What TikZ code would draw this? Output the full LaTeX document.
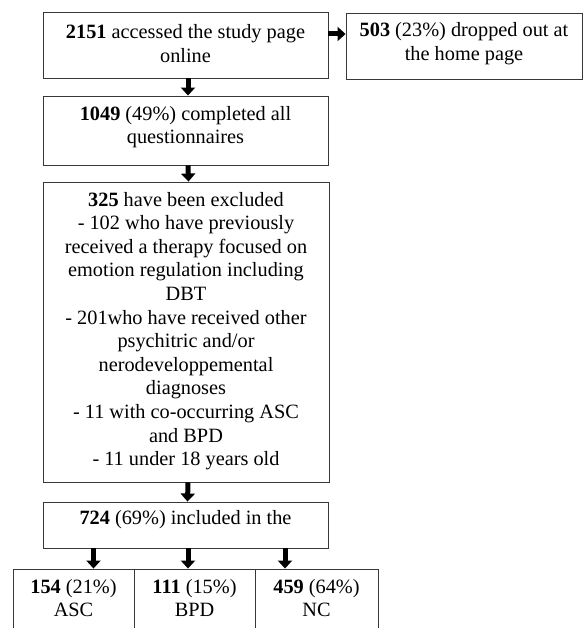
\documentclass[tikz,border=0pt]{standalone}
\usepackage{fontspec}
\setmainfont{Liberation Serif}
\usetikzlibrary{arrows.meta}
\tikzset{
  box/.style={draw=black!78, line width=0.9pt, rectangle, inner sep=0pt},
  txt/.style={align=center, inner sep=0pt, font=\fontsize{20.3}{23.6}\selectfont},
  blockarrow/.style={line width=5pt, black, -{Triangle[width=14pt,length=8pt]}},
}
\begin{document}
\begin{tikzpicture}[x=1pt,y=-1pt]
\useasboundingbox (0,0) rectangle (583,628);
\clip (0,0) rectangle (583,628);
% boxes
\node[box, minimum width=285pt, minimum height=66pt] (b1) at (185.5,45) {};
\node[box, minimum width=236pt, minimum height=66pt] (drop) at (464,46) {};
\node[box, minimum width=285pt, minimum height=69pt] (b2) at (185.5,130.5) {};
\node[box, minimum width=286pt, minimum height=300pt] (b3) at (186,332) {};
\node[box, minimum width=285pt, minimum height=46pt] (b4) at (185.5,525) {};
\node[box, minimum width=121pt, minimum height=80pt] (asc) at (73.5,609) {};
\node[box, minimum width=121pt, minimum height=80pt] (bpd) at (194.5,609) {};
\node[box, minimum width=123pt, minimum height=80pt] (nc) at (316.5,609) {};
% texts
\node[txt] (t1) at (185.5,43.5) {\textbf{2151} accessed the study page\\online};
\node[txt] (tdrop) at (464,43.5) {\textbf{503} (23\%) dropped out at\\the home page};
\node[txt] (t2) at (185.5,127) {\textbf{1049} (49\%) completed all\\questionnaires};
\node[txt] (t3) at (186,331) {\textbf{325} have been excluded\\
- 102 who have previously\\
received a therapy focused on\\
emotion regulation including\\
DBT\\
- 201who have received other\\
psychitric and/or\\
nerodeveloppemental\\
diagnoses\\
- 11 with co-occurring ASC\\
and BPD\\
- 11 under 18 years old};
\node[txt] (t4) at (185.5,520) {\textbf{724} (69\%) included in the};
\node[txt] (tasc) at (73.5,598) {\textbf{154} (21\%)\\ASC};
\node[txt] (tbpd) at (194.5,598) {\textbf{111} (15\%)\\BPD};
\node[txt] (tnc) at (316.5,598) {\textbf{459} (64\%)\\NC};
% arrows
\draw[blockarrow] ([xshift=2.5pt]b1.south) -- ([xshift=2.5pt]b2.north);
\draw[blockarrow] ([xshift=2.5pt]b2.south) -- ([xshift=2.5pt]b3.north);
\draw[blockarrow] ([xshift=2pt]b3.south) -- ([xshift=2pt]b4.north);
\draw[blockarrow] ([yshift=11pt]b1.east) -- ([yshift=11pt]b1.east -| drop.west);
\draw[blockarrow] ([xshift=-92pt]b4.south) -- ([xshift=-92pt]b4.south |- asc.north);
\draw[blockarrow] ([xshift=2.5pt]b4.south) -- ([xshift=2.5pt]b4.south |- bpd.north);
\draw[blockarrow] ([xshift=99.5pt]b4.south) -- ([xshift=99.5pt]b4.south |- nc.north);
\end{tikzpicture}
\end{document}
